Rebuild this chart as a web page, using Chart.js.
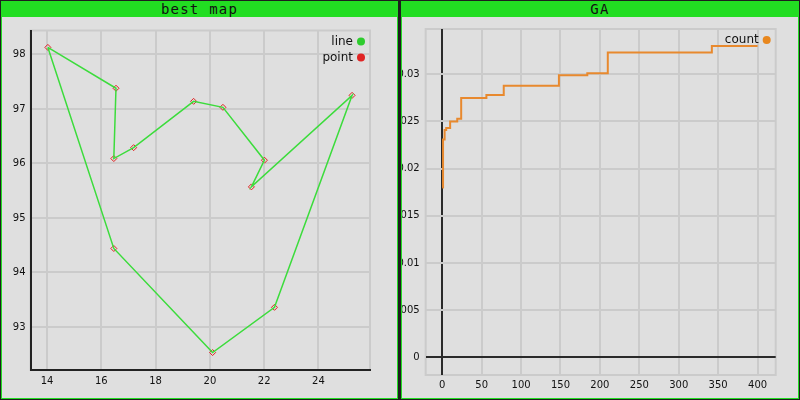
<!DOCTYPE html>
<html>
<head>
<meta charset="utf-8">
<script src="https://cdn.jsdelivr.net/npm/chart.js"></script>
<style>
  html, body { margin: 0; padding: 0; }
  body { width: 800px; height: 400px; background: #1e1e1e; position: relative; overflow: hidden; }
  .panel { position: absolute; top: 1px; height: 398px; box-sizing: border-box; border: 1px solid #22dd22; background: #dfdfdf; }
  .title { height: 15px; background: #22dd22; color: #111; font: 14px "DejaVu Sans Mono", monospace; letter-spacing: 1.2px; text-align: center; line-height: 15px; }
  canvas { display: block; }
</style>
</head>
<body>
<div class="panel" style="left:1px; width:397px;">
  <div class="title">best map</div>
  <canvas id="mapChart" width="395" height="381"></canvas>
</div>
<div class="panel" style="left:401px; width:398px;">
  <div class="title">GA</div>
  <canvas id="gaChart" width="396" height="381"></canvas>
</div>
<script>
// best route, in visiting order
const cityX = [14.03, 16.54, 16.46, 17.19, 19.40, 20.48, 22.01, 21.53, 25.24, 22.38, 20.10, 16.46];
const cityY = [98.13, 97.38, 96.09, 96.29, 97.14, 97.03, 96.06, 95.57, 97.25, 93.36, 92.53, 94.44];

// GA progress: generation where best value changed, and the new value
const gens = [0, 1, 3, 5, 10, 19, 24, 56, 78, 148, 184, 210, 342, 400];
const bestFit = [0.0180, 0.0231, 0.0241, 0.0243, 0.0250, 0.0253, 0.0275, 0.0278, 0.0288, 0.0299, 0.0301, 0.0323, 0.0330, 0.0330];

const mapTicksX = [14, 16, 18, 20, 22, 24];
const gaTicksX = [0, 50, 100, 150, 200, 250, 300, 350, 400];

Chart.defaults.font.family = '"DejaVu Sans", sans-serif';
Chart.defaults.color = '#111';

const gridColor = '#cbcbcb';

// frame round the plot area + legend in its top right corner
const panelDeco = {
    id: 'panelDeco',
    beforeDraw(chart) {
        const a = chart.chartArea;
        const ctx = chart.ctx;
        ctx.save();
        ctx.strokeStyle = gridColor;
        ctx.lineWidth = 2;
        ctx.strokeRect(a.left, a.top, a.right - a.left, a.bottom - a.top);
        ctx.restore();
    },
    afterDraw(chart) {
        const a = chart.chartArea;
        const ctx = chart.ctx;
        ctx.save();
        ctx.font = '12px "DejaVu Sans", sans-serif';
        ctx.textAlign = 'right';
        ctx.textBaseline = 'middle';
        chart.data.datasets.forEach((ds, i) => {
            const y = a.top + 11 + i * 16;
            ctx.fillStyle = '#111';
            ctx.fillText(ds.label, a.right - 17, y);
            ctx.beginPath();
            ctx.arc(a.right - 9, y, 4, 0, Math.PI * 2);
            ctx.fillStyle = ds.legendColor;
            ctx.fill();
        });
        ctx.restore();
    }
};

function fixWidth(w) { return scale => { scale.width = w; }; }
function fixHeight(h) { return scale => { scale.height = h; }; }

const routeX = cityX.concat([cityX[0]]);
const routeY = cityY.concat([cityY[0]]);

new Chart(document.getElementById('mapChart'), {
    type: 'scatter',
    data: {
        datasets: [{
            label: 'line',
            data: routeX.map((x, i) => ({ x: x, y: routeY[i] })),
            showLine: true,
            borderColor: '#3cdc3c',
            borderWidth: 1.5,
            pointRadius: 0,
            legendColor: '#2ecc2e'
        }, {
            label: 'point',
            data: cityX.map((x, i) => ({ x: x, y: cityY[i] })),
            showLine: false,
            pointStyle: 'rectRot',
            pointRadius: 3,
            pointBorderColor: '#e02020',
            pointBackgroundColor: 'rgba(0,0,0,0)',
            pointBorderWidth: 1,
            legendColor: '#e02424'
        }]
    },
    options: {
        responsive: false,
        animation: false,
        devicePixelRatio: 1,
        layout: { padding: { top: 13.5, right: 27, left: 0, bottom: 0 } },
        plugins: { legend: { display: false }, tooltip: { enabled: false } },
        scales: {
            x: {
                type: 'linear',
                min: 13.39, max: 25.9,
                afterFit: fixHeight(28),
                afterBuildTicks: scale => { scale.ticks = mapTicksX.map(v => ({ value: v })); },
                grid: { color: gridColor, lineWidth: 2, drawTicks: false },
                border: { color: '#222', width: 2 },
                ticks: { padding: 5, font: { size: 10 } }
            },
            y: {
                min: 92.21, max: 98.44,
                afterFit: fixWidth(28.5),
                grid: { color: gridColor, lineWidth: 2, drawTicks: false },
                border: { color: '#222', width: 2 },
                ticks: { stepSize: 1, includeBounds: false, padding: 5, font: { size: 10 } }
            }
        }
    },
    plugins: [panelDeco]
});

const zeroGrid = c => (c.tick && c.tick.value === 0) ? '#2a2a2a' : gridColor;

new Chart(document.getElementById('gaChart'), {
    type: 'line',
    data: {
        datasets: [{
            label: 'count',
            data: gens.map((g, i) => ({ x: g, y: bestFit[i] })),
            stepped: 'before',
            borderColor: '#e8892e',
            borderWidth: 2,
            pointRadius: 0,
            fill: false,
            legendColor: '#e8871e'
        }]
    },
    options: {
        responsive: false,
        animation: false,
        devicePixelRatio: 1,
        layout: { padding: { top: 8.3, right: 22.3, left: 0, bottom: 0 } },
        plugins: { legend: { display: false }, tooltip: { enabled: false } },
        scales: {
            x: {
                type: 'linear',
                min: -21, max: 423,
                afterFit: fixHeight(23),
                afterBuildTicks: scale => { scale.ticks = gaTicksX.map(v => ({ value: v })); },
                grid: { color: zeroGrid, lineWidth: 2, drawTicks: false },
                border: { display: false },
                ticks: { padding: 4, font: { size: 10 } }
            },
            y: {
                min: -0.00186, max: 0.0348,
                afterFit: fixWidth(23.7),
                grid: { color: zeroGrid, lineWidth: 2, drawTicks: false },
                border: { display: false },
                ticks: {
                    stepSize: 0.005, includeBounds: false, padding: 6, font: { size: 10 },
                    callback: v => String(parseFloat(v.toFixed(4)))
                }
            }
        }
    },
    plugins: [panelDeco]
});
</script>
</body>
</html>
